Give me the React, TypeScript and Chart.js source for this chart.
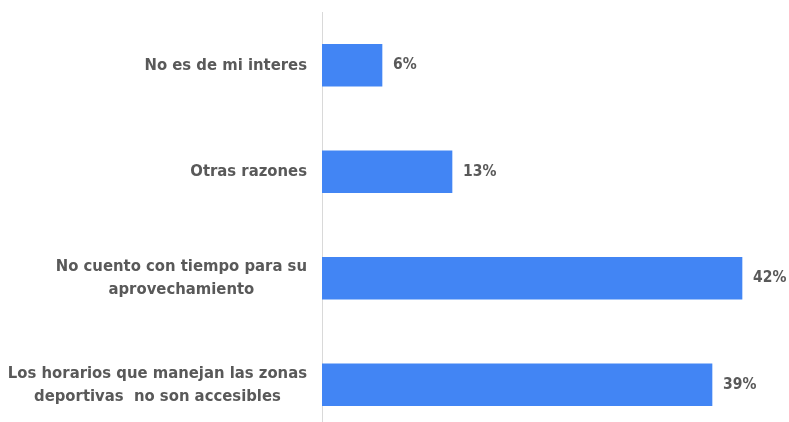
import React, { useEffect, useRef } from "react";
import { Chart, registerables } from "chart.js";

Chart.register(...registerables);

const categories: string[][] = [
  ["No es de mi interes"],
  ["Otras razones"],
  ["No cuento con tiempo para su", "aprovechamiento"],
  ["Los horarios que manejan las zonas", "deportivas  no son accesibles"],
];
const values: number[] = [6, 13, 42, 39];
const valueLabels: string[] = ["6%", "13%", "42%", "39%"];

const FONT = '"Liberation Sans Narrow", "DejaVu Sans Condensed", Arial, sans-serif';
const TEXT = "#595959";

const labelPlugin = {
  id: "customLabels",
  afterDatasetsDraw(chart: any) {
    const ctx = chart.ctx;
    const yScale = chart.scales.y;
    const xScale = chart.scales.x;
    ctx.save();
    ctx.fillStyle = TEXT;
    ctx.textBaseline = "middle";
    // category labels: block right-aligned, lines centered
    ctx.font = `bold 16.5px ${FONT}`;
    const lh = 23;
    categories.forEach((lines, i) => {
      const cy = yScale.getPixelForValue(i);
      const w = Math.max(...lines.map((l) => ctx.measureText(l).width));
      const right = chart.chartArea.left - 15;
      const cx = right - w / 2;
      ctx.textAlign = "center";
      lines.forEach((l, j) => {
        const y = cy + (j - (lines.length - 1) / 2) * lh;
        ctx.fillText(l, cx, y);
      });
    });
    // value labels
    ctx.font = `bold 15.5px ${FONT}`;
    ctx.textAlign = "left";
    values.forEach((v, i) => {
      const x = xScale.getPixelForValue(v) + 11;
      const y = yScale.getPixelForValue(i);
      ctx.fillText(valueLabels[i], x, y);
    });
    ctx.restore();
  },
};

export default function App() {
  const ref = useRef<HTMLCanvasElement>(null);
  useEffect(() => {
    if (!ref.current) return;
    const chart = new Chart(ref.current, {
      type: "bar",
      data: {
        labels: categories.map((c) => c.join(" ")),
        datasets: [
          {
            data: values,
            backgroundColor: "#4285f4",
            barThickness: 42,
          },
        ],
      },
      options: {
        indexAxis: "y",
        animation: false,
        responsive: true,
        maintainAspectRatio: false,
        layout: { padding: { left: 314, right: 17, top: 12, bottom: 2 } },
        plugins: { legend: { display: false }, tooltip: { enabled: false } },
        scales: {
          x: { display: false, min: 0, max: 45 },
          y: {
            display: true,
            grid: { display: false },
            border: { display: true, color: "#d9d9d9", width: 1 },
            ticks: { display: false },
          },
        },
      },
      plugins: [labelPlugin],
    });
    return () => chart.destroy();
  }, []);
  return (
    <div style={{ position: "fixed", left: 0, top: 0, width: 789, height: 422, overflow: "hidden", background: "#fff" }}>
      <div style={{ position: "relative", width: 789, height: 440 }}>
        <canvas ref={ref} />
      </div>
    </div>
  );
}
